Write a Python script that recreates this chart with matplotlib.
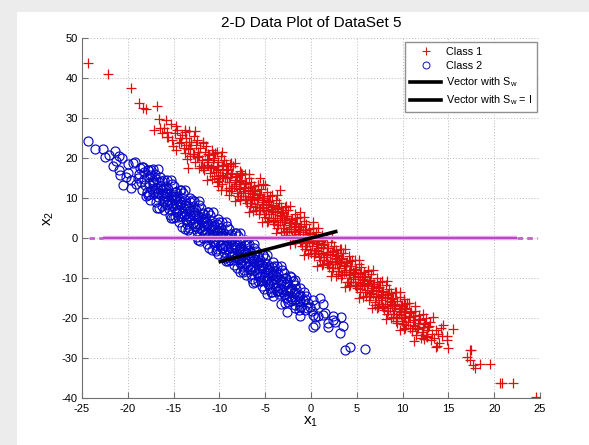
import numpy as np
import matplotlib
matplotlib.use("Agg")
import matplotlib.pyplot as plt
from matplotlib.lines import Line2D
from matplotlib.patches import Rectangle

plt.rcParams['font.family'] = ['Liberation Sans', 'DejaVu Sans']
plt.rcParams['mathtext.default'] = 'regular'
plt.rcParams['axes.unicode_minus'] = False

# class 1 samples (red +)
class1 = [
    (-24.3, 43.7), (-22.2, 40.9), (-19.6, 37.4), (-18.8, 33.8), (-18.3, 32.4), (-18.0, 32.2),
    (-16.8, 33.0), (-16.6, 29.8), (-17.1, 27.0), (-16.5, 27.5), (-15.75, 25.3),
    (-16.1, 27.4), (-15.8, 29.6), (-16.3, 26.2),
    (-15.6, 25.3), (-15.3, 28.4), (-15.7, 26.6),
    (-14.9, 26.2), (-15.2, 24.4), (-14.7, 27.9), (-15.1, 22.9),
    (-14.4, 23.8), (-14.6, 26.9), (-14.3, 25.1), (-14.7, 21.9),
    (-13.9, 22.6), (-14.1, 25.8), (-14.2, 24.0), (-13.8, 27.0),
    (-13.4, 22.3), (-13.6, 25.0), (-13.75, 21.2), (-13.3, 23.9), (-13.5, 19.8),
    (-12.9, 21.0), (-13.1, 24.1), (-13.2, 22.4), (-12.8, 25.5), (-13.4, 17.4),
    (-12.4, 20.3), (-12.6, 23.2), (-12.3, 21.6), (-12.7, 19.1), (-12.5, 24.6),
    (-11.9, 19.4), (-12.1, 22.5), (-12.2, 20.6), (-11.8, 23.8), (-12.0, 17.9), (-11.8, 17.5),
    (-11.4, 18.3), (-11.6, 21.6), (-11.3, 19.8), (-11.7, 17.0), (-11.5, 22.9), (-11.2, 20.9),
    (-10.9, 17.6), (-11.1, 20.7), (-11.2, 18.9), (-10.8, 22.0), (-11.0, 16.2), (-10.7, 19.6),
    (-10.4, 16.6), (-10.6, 19.9), (-10.3, 14.1), (-10.7, 18.1), (-10.5, 21.3), (-10.2, 17.3), (-10.6, 15.4),
    (-9.9, 15.8), (-10.1, 19.0), (-10.2, 17.1), (-9.8, 20.4), (-10.0, 14.2), (-9.7, 17.9), (-10.1, 12.9),
    (-9.4, 14.9), (-9.6, 18.2), (-9.3, 16.3), (-9.7, 13.4), (-9.5, 19.5), (-9.2, 17.0), (-9.6, 15.6),
    (-9.0, 10.75), (-8.9, 14.0), (-9.1, 17.2), (-9.2, 15.3), (-8.8, 18.6), (-9.0, 12.5), (-8.7, 16.1),
    (-8.4, 13.1), (-8.6, 16.3), (-8.3, 14.5), (-8.7, 11.7), (-8.5, 17.9), (-8.2, 15.3), (-8.6, 12.4),
    (-7.9, 12.2), (-8.1, 15.4), (-8.2, 13.5), (-7.8, 16.8), (-8.0, 10.6), (-7.7, 14.3), (-8.1, 11.3), (-7.9, 13.9),
    (-7.6, 16.2), (-7.4, 11.3), (-7.6, 14.6), (-7.3, 12.7), (-7.7, 9.8), (-7.5, 15.9), (-7.2, 13.5), (-7.6, 10.5),
    (-6.9, 10.4), (-7.1, 13.7), (-7.2, 11.8), (-6.8, 15.0), (-7.0, 8.8), (-6.7, 12.5), (-7.1, 9.6), (-6.9, 12.0),
    (-6.4, 9.5), (-6.6, 12.8), (-6.3, 10.9), (-6.7, 7.9), (-6.5, 14.1), (-6.2, 11.7), (-6.6, 8.7), (-6.4, 11.3),
    (-5.9, 8.6), (-6.1, 11.9), (-6.2, 10.0), (-5.8, 13.2), (-6.0, 7.0), (-5.7, 10.8), (-6.1, 7.8), (-5.9, 10.3),
    (-5.6, 14.9), (-5.4, 7.7), (-5.6, 11.0), (-5.3, 9.1), (-5.7, 6.1), (-5.5, 12.3), (-5.2, 9.9), (-5.6, 6.9), (-5.4, 9.5),
    (-5.0, 13.25), (-4.9, 6.8), (-5.1, 10.1), (-5.2, 8.2), (-4.8, 11.4), (-5.0, 5.2), (-4.7, 9.0), (-5.1, 6.0), (-4.9, 8.5),
    (-4.4, 5.9), (-4.6, 9.2), (-4.3, 7.3), (-4.7, 4.3), (-4.5, 10.5), (-4.2, 8.1), (-4.6, 5.1), (-4.4, 7.7),
    (-3.9, 5.0), (-4.1, 8.3), (-4.2, 6.4), (-3.8, 9.6), (-4.0, 3.4), (-3.7, 7.2), (-4.1, 4.2), (-3.9, 6.7),
    (-3.4, 12.0), (-3.4, 4.1), (-3.6, 7.4), (-3.3, 5.5), (-3.7, 2.5), (-3.5, 8.7), (-3.2, 6.3), (-3.6, 3.3), (-3.4, 5.8),
    (-2.9, 3.2), (-3.1, 6.5), (-3.2, 4.6), (-2.8, 7.8), (-3.0, 1.6), (-2.7, 5.4), (-3.1, 2.4), (-2.9, 4.9),
    (-2.4, 2.3), (-2.6, 5.6), (-2.3, 3.7), (-2.7, 0.7), (-2.5, 6.9), (-2.2, 4.5), (-2.6, 1.5), (-2.4, 4.0),
    (-1.9, 1.4), (-2.1, 4.7), (-2.2, 2.8), (-1.8, 6.0), (-2.0, -0.2), (-1.7, 3.6), (-2.1, 0.6), (-1.9, 3.1),
    (-1.4, 0.5), (-1.6, 3.8), (-1.3, 1.9), (-1.7, -1.1), (-1.5, 5.1), (-1.2, 2.7), (-1.6, -0.3), (-1.4, 2.2),
    (-1.2, 6.6), (-0.9, -0.3), (-1.1, 3.0), (-1.2, 1.1), (-0.8, 4.3), (-1.0, -1.9), (-0.7, 1.9), (-1.1, -1.1), (-0.9, 1.4),
    (-0.4, -1.2), (-0.6, 2.1), (-0.3, 0.2), (-0.7, -2.8), (-0.5, 3.4), (-0.2, 1.0), (-0.6, -2.0), (-0.4, 0.5),
    (0.25, 4.1), (0.1, -2.1), (-0.1, 1.2), (-0.2, -0.7), (0.2, 2.5), (0.0, -3.7), (0.3, 0.1), (-0.1, -2.9), (0.1, -0.4),
    (0.6, -3.0), (0.4, 0.3), (0.7, -1.6), (0.3, -4.6), (0.5, 1.6), (0.8, -0.8), (0.4, -3.8), (0.6, -1.3),
    (1.1, -3.9), (0.9, -0.6), (0.8, -2.5), (1.2, 0.8), (1.0, -5.5), (1.3, -1.7), (0.9, -4.7), (1.1, -2.2),
    (1.6, -4.8), (1.4, -1.5), (1.7, -3.4), (1.3, -6.4), (1.5, -0.1), (1.8, -2.6), (1.4, -5.6), (1.7, -6.3),
    (2.1, -5.7), (1.9, -2.4), (1.8, -4.3), (2.2, -1.0), (2.0, -7.2), (2.3, -3.5), (1.9, -6.4), (2.1, -4.0),
    (2.6, -6.6), (2.4, -3.3), (2.7, -5.2), (2.3, -8.2), (2.5, -1.9), (2.8, -4.4), (2.4, -7.4), (2.6, -4.9),
    (3.1, -7.5), (2.9, -4.2), (2.8, -6.1), (3.2, -2.8), (3.0, -9.0), (3.3, -5.3), (2.9, -8.2), (3.1, -5.8),
    (3.6, -8.4), (3.4, -5.1), (3.7, -7.0), (3.3, -10.0), (3.5, -3.7), (3.8, -6.2), (3.4, -9.2), (3.6, -6.7),
    (3.9, -10.9), (4.1, -9.3), (3.9, -6.0), (3.8, -7.9), (4.2, -4.6), (4.0, -11.0), (4.3, -7.1), (4.1, -8.4),
    (4.6, -10.2), (4.4, -6.9), (4.7, -8.8), (4.3, -11.8), (4.5, -5.5), (4.8, -8.0), (4.4, -11.0), (4.6, -8.5),
    (5.1, -11.1), (4.9, -7.8), (4.8, -9.7), (5.2, -6.4), (5.0, -12.6), (5.3, -8.9), (4.9, -12.0), (5.1, -9.4),
    (5.6, -12.0), (5.4, -8.7), (5.7, -10.6), (5.3, -13.6), (5.5, -7.3), (5.8, -9.8), (5.4, -12.8), (5.6, -10.3),
    (6.1, -12.9), (5.9, -9.6), (5.8, -11.5), (6.2, -8.2), (6.0, -14.4), (6.3, -10.7), (5.9, -13.6), (6.1, -11.2),
    (6.6, -13.8), (6.4, -10.5), (6.7, -12.4), (6.3, -15.4), (6.5, -9.1), (6.8, -11.6), (6.4, -14.6), (6.6, -12.1),
    (6.99, -16.75), (7.1, -14.7), (6.9, -11.4), (6.8, -13.3), (7.2, -10.0), (7.0, -16.0), (7.3, -12.5), (7.1, -13.0),
    (7.6, -15.6), (7.4, -12.3), (7.7, -14.2), (7.3, -17.2), (7.5, -10.9), (7.8, -13.4), (7.4, -16.4), (7.6, -13.9),
    (8.1, -16.5), (7.9, -13.2), (7.8, -15.1), (8.2, -11.8), (8.0, -18.0), (8.3, -14.3), (7.9, -17.2), (8.1, -14.8),
    (8.6, -17.4), (8.4, -14.1), (8.7, -16.0), (8.3, -19.0), (8.5, -12.7), (8.8, -15.2), (8.4, -18.2), (8.6, -15.7),
    (9.1, -18.2), (8.9, -14.9), (8.8, -16.8), (9.2, -13.5), (9.0, -19.7), (9.35, -21.3), (8.9, -18.9), (9.1, -16.5),
    (9.7, -14.7), (9.6, -19.1), (9.4, -15.8), (9.7, -17.7), (9.3, -20.7), (9.8, -16.9), (9.4, -19.9), (9.6, -17.4),
    (10.1, -20.0), (9.9, -16.7), (9.8, -18.6), (10.2, -15.3), (10.0, -21.5), (10.3, -17.8), (9.9, -20.7), (10.1, -18.3),
    (10.8, -19.7), (10.6, -20.9), (10.4, -17.6), (10.7, -19.5), (10.3, -22.5), (10.5, -16.2), (10.8, -18.7), (10.4, -21.7),
    (11.1, -21.8), (10.9, -18.5), (11.2, -20.4), (11.0, -23.3), (11.3, -17.1), (11.1, -19.6),
    (11.6, -22.7), (11.4, -19.4), (11.7, -21.3), (11.5, -24.2), (11.8, -20.5), (11.4, -18.2),
    (12.26, -24.25), (12.1, -23.6), (11.9, -20.3), (12.2, -22.2), (12.0, -25.1), (12.3, -21.4),
    (12.6, -24.5), (12.4, -21.2), (12.7, -23.1), (12.5, -19.9), (12.8, -22.3),
    (13.1, -25.4), (12.9, -22.1), (13.2, -24.0), (13.35, -19.7), (13.0, -21.0),
    (13.7, -27.2), (13.8, -26.9), (13.6, -23.0), (13.4, -25.0), (13.9, -24.0),
    (14.45, -21.75), (14.2, -22.5), (14.0, -26.3), (14.3, -24.4),
    (14.9, -25.5), (14.8, -24.6), (15.5, -22.75), (15.0, -27.5),
    (17.36, -28.0), (17.5, -28.0), (17.0, -29.8), (17.36, -30.5), (17.7, -31.75), (17.9, -32.6),
    (18.45, -31.5), (19.5, -31.5), (20.6, -36.3), (20.8, -36.3), (22.1, -36.3), (24.6, -39.7),
    (-13.7, 23.2), (-13.8, 26.5), (-13.2, 20.5), (-13.3, 26.8), (-12.8, 21.0), (-12.7, 26.8),
    (-12.2, 17.5), (-12.3, 20.5), (-11.7, 17.8), (-11.8, 24.1), (-11.3, 14.6), (-11.2, 18.3),
    (-10.8, 14.8), (-10.7, 17.8), (-10.75, 21.1), (-10.2, 15.1), (-10.3, 18.0), (-10.25, 21.4),
    (-9.8, 11.9), (-9.7, 15.6), (-9.75, 21.4), (-9.3, 12.1), (-9.2, 15.1), (-9.25, 18.4),
    (-8.7, 12.4), (-8.8, 15.3), (-8.75, 18.7), (-8.3, 9.2), (-8.2, 12.9), (-8.25, 18.7),
    (-7.8, 9.4), (-7.7, 12.4), (-7.75, 15.7), (-7.2, 9.7), (-7.3, 12.6), (-7.25, 16.0),
    (-6.8, 6.5), (-6.7, 10.2), (-6.75, 16.0), (-6.3, 6.7), (-6.2, 9.7), (-6.25, 13.0),
    (-5.7, 7.0), (-5.8, 9.9), (-5.75, 13.3), (-5.3, 3.9), (-5.2, 7.6), (-5.25, 13.4),
    (-4.8, 4.1), (-4.7, 7.1), (-4.75, 10.4), (-4.2, 4.4), (-4.3, 7.3), (-4.25, 10.7),
    (-3.8, 1.2), (-3.7, 4.9), (-3.75, 10.7), (-3.3, 1.4), (-3.2, 4.4), (-3.25, 7.7),
    (-2.7, 1.7), (-2.8, 4.6), (-2.75, 8.0), (-2.3, -1.5), (-2.2, 2.2), (-2.25, 8.0),
    (-1.8, -1.3), (-1.7, 1.7), (-1.75, 5.0), (-1.2, -1.0), (-1.3, 1.9), (-1.25, 5.3),
    (-0.8, -4.2), (-0.7, -0.5), (-0.75, 5.3), (-0.3, -4.0), (-0.2, -1.0), (-0.25, 2.3),
    (0.3, -3.7), (0.2, -0.8), (0.25, 2.6), (0.7, -6.9), (0.8, -3.2), (0.75, 2.6),
    (1.2, -6.7), (1.3, -3.7), (1.25, -0.4), (1.8, -6.4), (1.7, -3.5), (1.75, -0.1),
    (2.2, -9.6), (2.3, -5.9), (2.25, -0.1), (2.7, -9.4), (2.8, -6.4), (2.75, -3.1),
    (3.3, -9.1), (3.2, -6.2), (3.25, -2.8), (3.7, -12.3), (3.8, -8.6), (3.75, -2.8),
    (4.2, -12.1), (4.3, -9.1), (4.25, -5.8), (4.8, -11.7), (4.7, -8.8), (4.75, -5.4),
    (5.2, -14.9), (5.3, -11.2), (5.25, -5.4), (5.7, -14.7), (5.8, -11.7), (5.75, -8.4),
    (6.3, -14.4), (6.2, -11.5), (6.25, -8.1), (6.7, -17.6), (6.8, -13.9), (6.75, -8.1),
    (7.2, -17.4), (7.3, -14.4), (7.25, -11.1), (7.8, -17.1), (7.7, -14.2), (7.75, -10.8),
    (8.2, -20.3), (8.3, -16.6), (8.25, -10.8), (8.7, -20.1), (8.8, -17.1), (8.75, -13.8),
    (9.3, -19.8), (9.2, -16.9), (9.25, -13.5), (9.7, -23.0), (9.8, -19.3), (9.75, -13.5),
    (10.2, -22.8), (10.3, -19.8), (10.25, -16.5), (10.8, -22.5), (10.7, -19.6), (10.75, -16.2),
    (11.2, -25.7), (11.3, -22.0), (11.7, -22.5), (11.8, -19.2), (12.3, -25.2), (12.2, -18.9),
    (12.7, -24.7),
]

# class 2 samples (blue o)
class2 = [
    (-24.3, 24.3), (-23.6, 22.2), (-22.7, 22.3), (-21.4, 21.8), (-22.0, 20.8), (-21.0, 20.5),
    (-22.5, 20.2), (-20.6, 19.9), (-21.65, 18.0), (-21.0, 17.0), (-20.5, 13.25), (-19.95, 16.2),
    (-19.6, 14.5), (-19.4, 18.7), (-18.5, 17.8), (-20.2, 15.2), (-21.3, 19.2), (-20.0, 18.4),
    (-19.7, 12.6), (-20.8, 15.8),
    (-19.2, 18.9), (-18.9, 15.1), (-19.1, 13.6), (-18.7, 17.4),
    (-18.6, 14.1), (-18.3, 17.8), (-18.4, 12.0), (-18.8, 15.9), (-18.2, 16.4),
    (-18.1, 13.2), (-17.8, 16.9), (-17.9, 11.6), (-18.2, 14.8), (-17.7, 15.3), (-18.0, 10.4),
    (-17.4, 12.3), (-17.6, 15.7), (-17.3, 13.9), (-17.7, 11.0), (-17.5, 17.0), (-17.2, 14.6), (-17.6, 9.6),
    (-17.1, 11.4), (-16.9, 14.8), (-16.8, 12.6), (-17.2, 13.5), (-16.7, 10.2), (-17.0, 16.0), (-16.9, 8.9),
    (-16.4, 10.7), (-16.6, 13.9), (-16.3, 12.1), (-16.7, 11.3), (-16.5, 15.2), (-16.2, 9.2), (-16.6, 7.6), (-16.4, 13.0),
    (-16.1, 9.8), (-15.8, 13.1), (-15.9, 11.2), (-16.2, 12.4), (-15.7, 8.4), (-16.0, 14.6), (-15.9, 10.5), (-16.1, 6.9),
    (-15.4, 8.9), (-15.6, 12.2), (-15.3, 10.4), (-15.7, 11.3), (-15.5, 7.3), (-15.2, 13.4), (-15.6, 9.6), (-15.4, 5.8),
    (-15.1, 8.1), (-14.8, 11.4), (-14.9, 9.4), (-15.2, 10.6), (-14.7, 6.5), (-15.0, 12.9), (-14.9, 7.4), (-15.1, 4.9), (-14.8, 10.0),
    (-14.4, 7.1), (-14.6, 10.5), (-14.3, 8.5), (-14.7, 9.7), (-14.5, 5.3), (-14.2, 12.0), (-14.6, 6.4), (-14.4, 3.9), (-14.3, 9.2),
    (-14.1, 6.3), (-13.8, 9.6), (-13.9, 7.5), (-14.2, 8.9), (-13.7, 4.7), (-14.0, 11.2), (-13.9, 5.7), (-14.1, 2.8), (-13.8, 8.2),
    (-13.4, 5.2), (-13.6, 8.7), (-13.3, 6.8), (-13.7, 7.9), (-13.5, 3.6), (-13.2, 10.1), (-13.6, 4.6), (-13.4, 1.9), (-13.3, 7.4),
    (-13.1, 4.5), (-12.8, 7.8), (-12.9, 5.8), (-13.2, 7.0), (-12.7, 2.9), (-13.0, 9.4), (-12.9, 3.8), (-13.1, 1.0), (-12.8, 6.4),
    (-12.4, 3.4), (-12.6, 6.9), (-12.3, 5.0), (-12.7, 6.1), (-12.5, 1.8), (-12.2, 8.3), (-12.6, 2.7), (-12.4, 0.2), (-12.3, 5.6),
    (-12.1, 2.6), (-11.8, 6.0), (-11.9, 4.0), (-12.2, 5.3), (-11.7, 0.9), (-12.0, 7.6), (-11.9, 1.9), (-12.1, -0.8), (-11.8, 4.8),
    (-11.4, 1.6), (-11.6, 5.1), (-11.3, 3.2), (-11.7, 4.3), (-11.5, 0.0), (-11.2, 6.6), (-11.6, 0.9), (-11.4, -1.5), (-11.3, 3.9),
    (-11.1, 0.8), (-10.8, 4.2), (-10.9, 2.3), (-11.2, 3.5), (-10.7, -0.9), (-11.0, 5.8), (-10.9, 0.1), (-11.1, -2.4), (-10.8, 2.9),
    (-10.4, -0.2), (-10.6, 3.3), (-10.3, 1.4), (-10.7, 2.6), (-10.5, -1.8), (-10.2, 4.8), (-10.6, -0.9), (-10.4, -3.2), (-10.3, 2.0),
    (-10.1, -1.0), (-9.8, 2.4), (-9.9, 0.5), (-10.2, 1.8), (-9.7, -2.6), (-10.0, 4.0), (-9.9, -1.7), (-10.1, -4.1), (-9.8, 1.2),
    (-9.4, -1.9), (-9.6, 1.5), (-9.3, -0.4), (-9.7, 0.8), (-9.5, -3.6), (-9.2, 3.1), (-9.6, -2.6), (-9.4, -5.0), (-9.3, 0.3),
    (-9.1, -2.7), (-8.8, 0.6), (-8.9, -1.3), (-9.2, -0.1), (-8.7, -4.4), (-9.0, 2.2), (-8.9, -3.4), (-9.1, -5.8), (-8.8, -0.6),
    (-8.4, -3.7), (-8.6, -0.3), (-8.3, -2.2), (-8.7, -1.0), (-8.5, -5.4), (-8.2, 1.3), (-8.6, -4.3), (-8.4, -6.7), (-8.3, -1.5),
    (-8.1, -4.5), (-7.8, -1.2), (-7.9, -3.1), (-8.2, -1.8), (-7.7, -6.3), (-8.0, 0.4), (-7.9, -5.2), (-8.1, -7.6), (-7.8, -2.4),
    (-7.4, -5.5), (-7.6, -2.0), (-7.3, -3.9), (-7.7, -2.8), (-7.5, -7.1), (-7.2, -0.6), (-7.6, -6.0), (-7.4, -8.5), (-7.3, -3.3),
    (-7.1, -6.3), (-6.8, -2.9), (-6.9, -4.9), (-7.2, -3.6), (-6.7, -8.1), (-7.0, -1.5), (-6.9, -7.0), (-7.1, -9.3), (-6.8, -4.2),
    (-6.4, -7.2), (-6.6, -3.8), (-6.3, -5.7), (-6.7, -4.4), (-6.5, -8.9), (-6.2, -2.4), (-6.6, -7.8), (-6.4, -10.2), (-6.3, -5.0),
    (-6.1, -8.0), (-5.8, -4.7), (-5.9, -6.6), (-6.2, -5.3), (-5.7, -9.8), (-6.0, -3.3), (-5.9, -8.7), (-6.1, -11.0), (-5.8, -5.9),
    (-5.4, -9.0), (-5.6, -5.5), (-5.3, -7.4), (-5.7, -6.2), (-5.5, -10.7), (-5.2, -4.2), (-5.6, -9.6), (-5.4, -11.9), (-5.3, -6.8),
    (-5.1, -9.8), (-4.8, -6.4), (-4.9, -8.4), (-5.2, -7.1), (-4.7, -11.6), (-5.0, -5.1), (-4.9, -10.5), (-5.1, -12.7), (-4.8, -7.7),
    (-4.4, -10.8), (-4.6, -7.3), (-4.3, -9.2), (-4.7, -8.0), (-4.5, -12.4), (-4.2, -6.0), (-4.6, -11.4), (-4.4, -13.6), (-4.3, -8.6),
    (-4.1, -11.6), (-3.8, -8.2), (-3.9, -10.2), (-4.2, -8.9), (-3.7, -13.3), (-4.0, -6.9), (-3.9, -12.3), (-4.1, -14.4), (-3.8, -9.5),
    (-3.4, -12.6), (-3.6, -9.1), (-3.3, -11.0), (-3.7, -9.8), (-3.5, -14.1), (-3.2, -7.9), (-3.6, -13.2), (-3.3, -10.4),
    (-3.1, -13.4), (-2.8, -10.0), (-2.9, -12.0), (-3.2, -10.7), (-2.7, -15.0), (-3.0, -8.8), (-2.9, -14.1),
    (-2.4, -14.4), (-2.6, -10.9), (-2.3, -12.8), (-2.7, -11.6), (-2.5, -15.9), (-2.2, -9.8), (-2.4, -13.3),
    (-2.1, -15.2), (-1.8, -11.8), (-1.9, -13.7), (-2.2, -12.5), (-1.7, -16.7), (-2.0, -10.7),
    (-1.4, -16.1), (-1.6, -12.7), (-1.3, -14.6), (-1.7, -13.4), (-1.2, -17.3),
    (-1.1, -16.9), (-0.8, -13.6), (-0.9, -15.5), (-1.2, -14.3), (-0.7, -18.0),
    (-0.4, -17.6), (-0.6, -14.5), (-0.3, -16.2), (-0.7, -15.3),
    (-0.1, -17.2), (0.2, -15.6), (0.1, -18.3),
    (1.0, -15.1), (1.35, -16.5), (0.44, -16.75), (-2.65, -18.4), (-1.2, -19.4), (0.44, -19.7),
    (0.8, -19.4), (1.5, -18.8), (2.4, -19.4), (3.3, -19.7), (0.44, -21.75), (1.9, -21.3),
    (2.6, -20.9), (3.5, -21.9), (3.2, -23.8), (0.27, -22.2), (1.9, -22.2), (2.4, -20.5),
    (0.25, -19.2), (1.35, -19.2), (3.7, -28.0), (4.25, -27.2), (5.9, -27.75),
    (-17.8, 10.7), (-17.7, 13.7), (-17.75, 17.0), (-17.2, 11.0), (-17.3, 13.9), (-17.25, 17.3),
    (-16.8, 7.6), (-16.7, 11.5), (-16.75, 17.3), (-16.3, 8.0), (-16.2, 11.0), (-16.25, 14.3),
    (-15.7, 8.3), (-15.8, 11.2), (-15.75, 14.6), (-15.3, 4.9), (-15.2, 8.8), (-15.25, 14.6),
    (-14.8, 5.3), (-14.7, 8.3), (-14.75, 11.6), (-14.2, 5.6), (-14.3, 8.5), (-14.25, 11.9),
    (-13.8, 2.2), (-13.7, 6.1), (-13.75, 11.9), (-13.3, 2.6), (-13.2, 5.6), (-13.25, 8.9),
    (-12.7, 2.9), (-12.8, 5.8), (-12.75, 9.2), (-12.3, -0.5), (-12.2, 3.4), (-12.25, 9.2),
    (-11.8, 0.0), (-11.7, 3.0), (-11.75, 6.3), (-11.2, 0.3), (-11.3, 3.2), (-11.25, 6.6),
    (-10.8, -3.1), (-10.7, 0.8), (-10.75, 6.6), (-10.3, -2.7), (-10.2, 0.3), (-10.25, 3.6),
    (-9.7, -2.4), (-9.8, 0.5), (-9.75, 3.9), (-9.3, -5.8), (-9.2, -1.9), (-9.25, 3.9),
    (-8.8, -5.4), (-8.7, -2.4), (-8.75, 0.9), (-8.2, -5.1), (-8.3, -2.2), (-8.25, 1.2),
    (-7.8, -8.5), (-7.7, -4.6), (-7.75, 1.2), (-7.3, -8.1), (-7.2, -5.1), (-7.25, -1.8),
    (-6.7, -7.8), (-6.8, -4.9), (-6.75, -1.5), (-6.3, -11.2), (-6.2, -7.3), (-6.25, -1.5),
    (-5.8, -10.8), (-5.7, -7.8), (-5.75, -4.5), (-5.2, -10.5), (-5.3, -7.6), (-5.25, -4.2),
    (-4.8, -13.9), (-4.7, -10.0), (-4.75, -4.2), (-4.3, -13.5), (-4.2, -10.5), (-4.25, -7.2),
    (-3.7, -13.2), (-3.8, -10.3), (-3.75, -6.9), (-3.3, -16.6), (-3.2, -12.7), (-3.25, -6.9),
    (-2.8, -16.2), (-2.7, -13.2), (-2.75, -9.9), (-2.2, -15.8), (-2.3, -12.9), (-2.25, -9.5),
    (-1.8, -17.5), (-1.7, -15.3), (-1.75, -10.6), (-1.3, -17.9), (-1.2, -15.8), (-1.25, -12.5),
]

# projection vector and the horizontal direction line
vec_sw_x = [-9.9, 2.7]
vec_sw_y = [-5.9, 1.6]
horiz_x = [-22.7, 22.5]
horiz_ends = [(-24.2, -22.7), (22.5, 24.7)]

c1 = np.array(class1)
c2 = np.array(class2)

fig = plt.figure(figsize=(5.89, 4.45), dpi=100)
fig.patches.append(Rectangle((0, 0), 17 / 589, 1, transform=fig.transFigure,
                             facecolor='#ececec', edgecolor='none', zorder=-1))
fig.patches.append(Rectangle((0, 1 - 12 / 445), 1, 12 / 445, transform=fig.transFigure,
                             facecolor='#ececec', edgecolor='none', zorder=-1))

ax = fig.add_axes([82 / 589, 47 / 445, 458 / 589, 360 / 445])

ax.plot(c1[:, 0], c1[:, 1], '+', color='#e01010', ms=6.5, mew=0.9, label='Class 1')
ax.plot(c2[:, 0], c2[:, 1], 'o', color='#0808c8', mfc='none', ms=6.5, mew=0.85, label='Class 2')

ax.plot(horiz_x, [0, 0], color='#e8a8ec', lw=3.2, solid_capstyle='butt', zorder=4)
ax.plot(horiz_x, [0, 0], color='#b83cc0', lw=1.3, solid_capstyle='butt', zorder=4)
for x0, x1 in horiz_ends:
    ax.plot([x0, x1], [0, 0], color='#c060c8', lw=2, ls=(0, (2, 1.5)), zorder=4)
ax.plot(vec_sw_x, vec_sw_y, color='black', lw=2.6, zorder=5)

ax.set_xlim(-25, 25)
ax.set_ylim(-40, 50)
ax.set_xticks(np.arange(-25, 26, 5))
ax.set_yticks(np.arange(-40, 51, 10))
ax.grid(True, color='#b8b8b8', ls=(0, (1, 2)), lw=0.7)
ax.set_axisbelow(True)
for s in ['top', 'right']:
    ax.spines[s].set_visible(False)
for s in ['left', 'bottom']:
    ax.spines[s].set_color('#707070')
ax.tick_params(direction='in', length=4, labelsize=8, color='#707070')
ax.tick_params(axis='x', pad=4)
ax.tick_params(axis='y', pad=3)

ax.set_title('2-D Data Plot of DataSet 5', fontsize=11, pad=8)
ax.set_xlabel('x$_1$', fontsize=11, labelpad=1)
ax.set_ylabel('x$_2$', fontsize=11, labelpad=4)

handles = [
    Line2D([], [], ls='none', marker='+', color='#d01818', ms=6, mew=0.8),
    Line2D([], [], ls='none', marker='o', color='#1010b0', mfc='none', ms=5, mew=0.7),
    Line2D([], [], color='black', lw=2.6),
    Line2D([], [], color='black', lw=2.6),
]
labels = ['Class 1', 'Class 2', 'Vector with S$_w$', 'Vector with S$_w$ = I']
leg = ax.legend(handles, labels, loc='upper right', bbox_to_anchor=(0.993, 0.989),
                borderaxespad=0, fontsize=7.8, handlelength=2.9, handletextpad=0.4,
                labelspacing=0.4, fancybox=False, framealpha=1, borderpad=0.45)
leg.get_frame().set_edgecolor('#909090')
leg.get_frame().set_linewidth(1.0)

fig.savefig('out.png', dpi=100)
